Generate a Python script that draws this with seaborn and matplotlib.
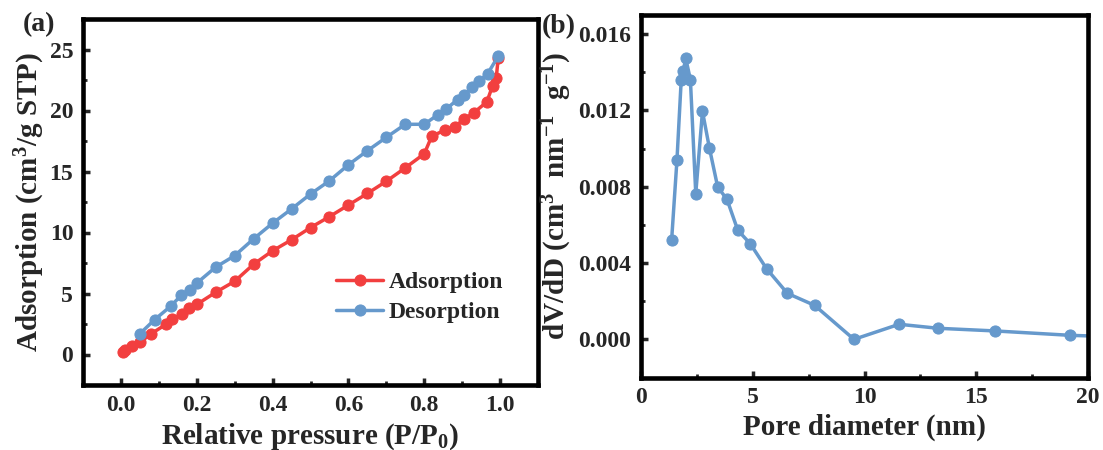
import matplotlib
matplotlib.use("Agg")
import matplotlib.pyplot as plt
import seaborn as sns
import numpy as np
import pandas as pd
from matplotlib.ticker import MultipleLocator, FormatStrFormatter

# ---------------- data ----------------
ads_p = [0.005, 0.01, 0.03, 0.05, 0.08, 0.12, 0.135, 0.16, 0.18, 0.20, 0.25, 0.30, 0.35,
         0.40, 0.45, 0.50, 0.55, 0.60, 0.65, 0.70, 0.75, 0.80, 0.82, 0.855, 0.88, 0.905,
         0.93, 0.965, 0.98, 0.99, 0.995]
ads_v = [0.2, 0.35, 0.7, 1.0, 1.7, 2.5, 2.9, 3.3, 3.8, 4.1, 5.1, 6.0, 7.4,
         8.5, 9.4, 10.4, 11.3, 12.25, 13.2, 14.2, 15.3, 16.45, 17.9, 18.4, 18.65, 19.3,
         19.8, 20.7, 22.0, 22.7, 24.3]
des_p = [0.05, 0.089, 0.131, 0.159, 0.182, 0.20, 0.25, 0.30, 0.35, 0.40, 0.45, 0.50,
         0.55, 0.60, 0.65, 0.70, 0.75, 0.80, 0.835, 0.857, 0.888, 0.906, 0.925, 0.944,
         0.967, 0.995]
des_v = [1.7, 2.86, 3.95, 4.85, 5.3, 5.85, 7.16, 8.1, 9.48, 10.76, 11.93, 13.15,
         14.24, 15.55, 16.7, 17.8, 18.87, 18.87, 19.63, 20.1, 20.9, 21.3, 21.9, 22.4,
         23.0, 24.45]

pore_d = [1.37, 1.61, 1.80, 1.89, 2.00, 2.21, 2.45, 2.75, 3.06, 3.43, 3.85, 4.33, 4.89,
          5.62, 6.55, 7.77, 9.53, 11.55, 13.29, 15.85, 19.21, 23.5]
dvdd = [0.0052, 0.00942, 0.01361, 0.01405, 0.01474, 0.01361, 0.00764, 0.01195, 0.01003,
        0.00799, 0.00733, 0.00572, 0.00501, 0.0037, 0.00241, 0.00178, 0.0000, 0.00079,
        0.00058, 0.00044, 0.00021, 0.00005]

labels = ["Adsorption", "Desorption"]
red = "#F23F3F"
blue = "#6699CC"

# ---------------- style ----------------
sns.set_theme(style="ticks")
plt.rcParams["font.family"] = ["Liberation Serif", "DejaVu Serif"]
plt.rcParams["font.weight"] = "bold"
plt.rcParams["mathtext.fontset"] = "custom"
plt.rcParams["mathtext.rm"] = "Liberation Serif:bold"
plt.rcParams["mathtext.it"] = "Liberation Serif:italic:bold"
plt.rcParams["mathtext.bf"] = "Liberation Serif:bold"
plt.rcParams["axes.linewidth"] = 3.3

fig = plt.figure(figsize=(11.03, 4.5), dpi=100)
W, H = 1103, 450
def px_axes(l, t, r, b):
    return fig.add_axes([l / W, 1 - b / H, (r - l) / W, (b - t) / H])

axa = px_axes(83, 19, 538, 385)
axb = px_axes(641, 15, 1088, 377.5)

def style_axis(ax):
    for s in ax.spines.values():
        s.set_linewidth(3.3)
        s.set_color("black")
    ax.tick_params(which="major", direction="in", length=5, width=2.5,
                   labelsize=17, pad=7, top=False, right=False)
    ax.tick_params(which="minor", direction="in", length=3, width=2,
                   top=False, right=False)
    for lab in ax.get_xticklabels() + ax.get_yticklabels():
        lab.set_fontweight("bold")

# ---------------- panel (a) ----------------
dfa = pd.DataFrame({"p": ads_p, "v": ads_v})
dfd = pd.DataFrame({"p": des_p, "v": des_v})
sns.lineplot(data=dfa, x="p", y="v", ax=axa, color=red, marker="o", markersize=8,
             markeredgecolor=red, linewidth=2.5, sort=False, label=labels[0])
sns.lineplot(data=dfd, x="p", y="v", ax=axa, color=blue, marker="o", markersize=8,
             markeredgecolor=blue, linewidth=2.5, sort=False, label=labels[1])
axa.set_xlim(-0.1, 1.1)
axa.set_ylim(-2.5, 27.5)
axa.xaxis.set_major_locator(MultipleLocator(0.2))
axa.xaxis.set_minor_locator(MultipleLocator(0.1))
axa.xaxis.set_major_formatter(FormatStrFormatter("%.1f"))
axa.yaxis.set_major_locator(MultipleLocator(5))
axa.yaxis.set_minor_locator(MultipleLocator(2.5))
style_axis(axa)
axa.set_xlabel("Relative pressure (P/P$_0$)", fontsize=21, fontweight="bold", labelpad=4)
axa.set_ylabel("Adsorption (cm$^3$/g STP)", fontsize=21, fontweight="bold")
axa.yaxis.set_label_coords(-0.08, 0.5)
leg = axa.legend(loc="upper left", bbox_to_anchor=(0.556, 0.31), frameon=False,
                 borderpad=0, borderaxespad=0, handlelength=2.0, handletextpad=0.25,
                 labelspacing=0.35, prop={"size": 17, "weight": "bold"})
fig.text(23 / W, 1 - 25 / H, "(a)", fontsize=20, fontweight="bold", va="center", ha="left")

# ---------------- panel (b) ----------------
dfb = pd.DataFrame({"d": pore_d, "y": dvdd})
sns.lineplot(data=dfb, x="d", y="y", ax=axb, color=blue, marker="o", markersize=8,
             markeredgecolor=blue, linewidth=2.5, sort=False)
axb.set_xlim(0, 20)
axb.set_ylim(-0.002, 0.017)
axb.xaxis.set_major_locator(MultipleLocator(5))
axb.xaxis.set_minor_locator(MultipleLocator(2.5))
axb.yaxis.set_major_locator(MultipleLocator(0.004))
axb.yaxis.set_minor_locator(MultipleLocator(0.002))
axb.yaxis.set_major_formatter(FormatStrFormatter("%.3f"))
style_axis(axb)
axb.set_xlabel("Pore diameter (nm)", fontsize=21, fontweight="bold", labelpad=4)
axb.set_ylabel("dV/dD (cm$^{3}$  nm$^{-1}$  g$^{-1}$)", fontsize=21, fontweight="bold")
axb.yaxis.set_label_coords(-0.15, 0.5)
fig.text(542 / W, 1 - 27 / H, "(b)", fontsize=20, fontweight="bold", va="center", ha="left")

fig.savefig("out.png", dpi=100)
